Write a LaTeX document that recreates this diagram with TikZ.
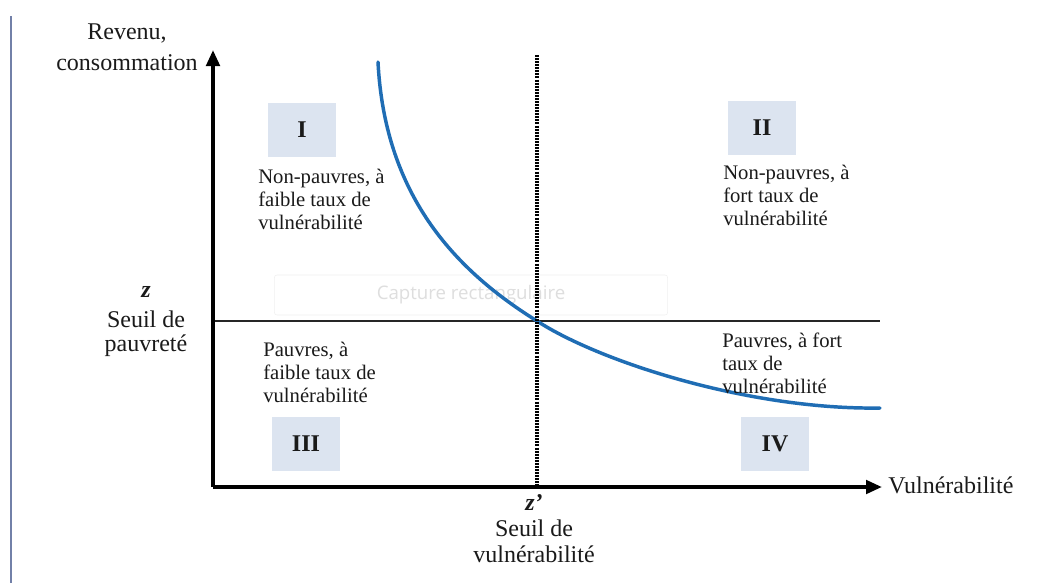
\documentclass[tikz,border=0pt]{standalone}
\usepackage{fontspec}
\setmainfont{Liberation Serif}
\newfontfamily\uifont{Open Sans}
\usetikzlibrary{arrows.meta}
\definecolor{txt}{HTML}{1A1A1A}
\definecolor{boxfill}{HTML}{DCE4F0}
\definecolor{curveblue}{HTML}{1F6DB4}
\definecolor{edgeline}{HTML}{7280A8}
\begin{document}
\begin{tikzpicture}[x=0.75pt,y=-0.75pt,
  axisline/.style={line width=2.8pt, draw=black, -{Triangle[length=12pt,width=10pt]}},
  quad/.style={fill=boxfill, minimum width=51pt, minimum height=41pt, inner sep=0pt,
    font=\fontsize{18}{20}\selectfont\bfseries, text=txt},
  lbl/.style={font=\fontsize{15.5}{17.25}\selectfont, text=txt, align=left, anchor=west, inner sep=0pt},
  axlbl/.style={font=\fontsize{18}{19.5}\selectfont, text=txt, align=center, inner sep=0pt},
  curvestyle/.style={line width=2.6pt, draw=curveblue, line cap=round}
]
\useasboundingbox (0,0) rectangle (1045,583);
\fill[white] (0,0) rectangle (1045,583);

% left page edge line
\coordinate (et) at (11,16);
\coordinate (eb) at (11,583);
\draw[edgeline, line width=1.6pt] (et) -- (eb);

% faint screenshot overlay
\node[draw=black!6, rounded corners=2pt, minimum width=295pt, minimum height=30pt,
  text=black!13, font=\uifont\fontsize{14}{16}\selectfont] (cap) at (471,295) {Capture rectangulaire};

% coordinates
\coordinate (O) at (213,487);
\coordinate (Ytop) at (213,50);
\coordinate (Xend) at (882,487);
\coordinate (Hl) at (213,321);
\coordinate (Hr) at (880,321);
\coordinate (Vt) at (537,55);
\coordinate (Vb) at (537,487);
\coordinate (Cs) at (378,62);
\coordinate (Cm) at (537,321);
\coordinate (Ce) at (880,408);

% poverty line
\draw[line width=2pt, draw=black!85] (Hl) -- (Hr);

% curve
\draw[curvestyle] (Cs) .. controls (385,200) and (460,273) .. (Cm)
  .. controls (600,362) and (750,410) .. (Ce);

% vulnerability threshold (dotted)
\draw[line width=2.6pt, dash pattern=on 1.5pt off 0.8pt] (Vt) -- (Vb);

% axes
\draw[axisline] (O) -- (Ytop);
\draw[axisline] (O) -- (Xend);

% quadrant boxes
\node[quad] (qI) at (302,130) {I};
\node[quad] (qII) at (762,128) {II};
\node[quad] (qIII) at (306,444) {III};
\node[quad] (qIV) at (775,444) {IV};

% quadrant texts
\node[lbl] (tI) at (258,199) {Non-pauvres, à\\faible taux de\\vulnérabilité};
\node[lbl] (tII) at (723,195) {Non-pauvres, à\\fort taux de\\vulnérabilité};
\node[lbl] (tIII) at (263,372) {Pauvres, à\\faible taux de\\vulnérabilité};
\node[lbl] (tIV) at (722,363) {Pauvres, à fort\\taux de\\vulnérabilité};

% axis labels
\node[axlbl] (ylab) at (127,47) {Revenu,\\[3.5pt]consommation};
\node[axlbl] (zlab) at (146,322) {\textbf{\textit{z}}\\[3pt]Seuil de\\[-1.5pt]pauvreté};
\node[axlbl] (zplab) at (534,529) {\textbf{\textit{z’}}\\Seuil de\\vulnérabilité};
\node[font=\fontsize{18}{19.5}\selectfont, text=txt, anchor=west, inner sep=0pt] (xlab) at (888,485) {Vulnérabilité};
\end{tikzpicture}
\end{document}
